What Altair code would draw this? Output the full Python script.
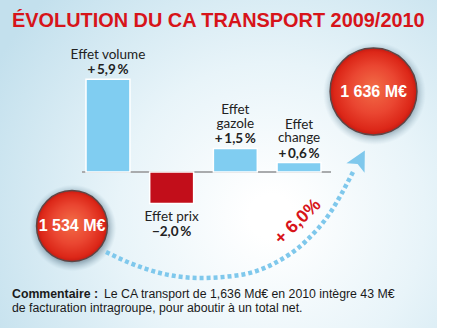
import altair as alt
import pandas as pd

# ---- data ----
categories = ["Effet volume", "Effet prix", "Effet gazole", "Effet change"]
values = [5.9, -2.0, 1.5, 0.6]
name_labels = ["Effet volume", "Effet prix", "Effet\ngazole", "Effet\nchange"]
value_labels = ["+\u20095,9\u2009%", "\u22122,0\u2009%", "+\u20091,5\u2009%", "+\u20090,6\u2009%"]
start_total = "1 534 M€"
end_total = "1 636 M€"
growth_label = "+ 6,0%"
title_text = "ÉVOLUTION DU CA TRANSPORT 2009/2010"
comment_bold = "Commentaire :"
comment_line1 = "Le CA transport de 1,636 Md€ en 2010 intègre 43 M€"
comment_line2 = "de facturation intragroupe, pour aboutir à un total net."
# arrow path (pixels)
arrow_x = [106, 130, 160, 200, 240, 275, 305, 330, 353]
arrow_y = [252, 263, 273, 278, 275, 263, 242, 213, 172]

df = pd.DataFrame({"cat": categories, "value": values,
                   "name": name_labels, "vlab": value_labels})
df["sign"] = ["pos" if v >= 0 else "neg" for v in values]
arrow_df = pd.DataFrame({"px": arrow_x, "py": arrow_y, "order": range(len(arrow_x))})

one = alt.Data(values=[{"a": 1}])

XS = alt.Scale(domain=categories, range=[86, 321], paddingInner=0.31, paddingOuter=0)
YS = alt.Scale(domain=[-4, 8], range=[234.8, 46.4], nice=False, zero=False)
X = alt.X("cat:N", scale=XS, axis=None, sort=categories)
XC = alt.X("cat:N", scale=XS, axis=None, sort=categories, bandPosition=0.5)
Y = alt.Y("value:Q", scale=YS, axis=None)

FONT_LAB = "Lato"
FONT_TXT = "Liberation Sans"

# background
bg = alt.Chart(one).mark_rect(
    color=alt.Gradient(gradient="radial", x1=0.62, y1=0.62, r1=0.05, x2=0.62, y2=0.62, r2=0.72,
                       stops=[alt.GradientStop(color="#ffffff", offset=0),
                              alt.GradientStop(color="#e8f4f9", offset=0.45),
                              alt.GradientStop(color="#c3e0ed", offset=1)])
).encode(x=alt.value(0), x2=alt.value(437), y=alt.value(0), y2=alt.value(328))

def circle_layers(label, cx, cy, r):
    d = alt.Data(values=[{"label": label}])
    shadow = alt.Chart(d).mark_point(
        filled=True, shape="circle", size=3.1416 * (r + 9) ** 2, opacity=1,
        fill=alt.Gradient(gradient="radial", x1=0.5, y1=0.5, r1=0.0, x2=0.5, y2=0.5, r2=0.5,
                          stops=[alt.GradientStop(color="rgba(60,90,110,0.45)", offset=0.8),
                                 alt.GradientStop(color="rgba(120,160,180,0.0)", offset=1)]),
        strokeWidth=0
    ).encode(x=alt.value(cx + 1), y=alt.value(cy + 2))
    body = alt.Chart(d).mark_point(
        filled=True, shape="circle", size=3.1416 * r ** 2, opacity=1,
        fill=alt.Gradient(gradient="radial", x1=0.5, y1=0.45, r1=0.0, x2=0.5, y2=0.5, r2=0.5,
                          stops=[alt.GradientStop(color="#f26d47", offset=0),
                                 alt.GradientStop(color="#ea4631", offset=0.55),
                                 alt.GradientStop(color="#dc2718", offset=0.9),
                                 alt.GradientStop(color="#c51b12", offset=1)]),
        stroke="#5e4646", strokeWidth=1.5
    ).encode(x=alt.value(cx), y=alt.value(cy))
    txt = alt.Chart(d).mark_text(
        font=FONT_TXT, fontWeight="bold", fontSize=16, color="white", align="center", baseline="middle"
    ).encode(x=alt.value(cx), y=alt.value(cy), text="label:N")
    return [shadow, body, txt]

left_c = circle_layers(start_total, 72, 226, 40)
right_c = circle_layers(end_total, 373.5, 91.5, 49)

# dotted arrow
arrow = alt.Chart(arrow_df).mark_line(
    color="#7fc8ec", strokeWidth=4.5, strokeDash=[4, 3], interpolate="monotone", strokeCap="butt"
).encode(
    x=alt.X("px:Q", scale=alt.Scale(domain=[0, 450], range=[0, 450]), axis=None),
    y=alt.Y("py:Q", scale=alt.Scale(domain=[0, 328], range=[0, 328]), axis=None),
    order="order:O"
)
arrow_head = alt.Chart(one).mark_point(
    shape="M0,-1L0.9,0.75L0,0.35L-0.9,0.75Z", filled=True, size=520, angle=28,
    color="#7fc8ec", opacity=1
).encode(x=alt.value(359.5), y=alt.value(160.5))

growth = alt.Chart(alt.Data(values=[{"t": growth_label}])).mark_text(
    font=FONT_TXT, fontWeight="bold", fontSize=18, color="#d7141a", angle=316,
    align="center", baseline="middle"
).encode(x=alt.value(298), y=alt.value(222), text="t:N")

# bars
base = alt.Chart(df)
bars = base.mark_bar(stroke="white", strokeWidth=1.5).encode(
    x=X, y=Y, y2=alt.datum(0),
    color=alt.Color("sign:N", scale=alt.Scale(domain=["pos", "neg"], range=["#80cdf1", "#c20e1a"]),
                    legend=None)
)
rule = alt.Chart(one).mark_rule(color="#a9abad", strokeWidth=2).encode(
    x=alt.value(82), x2=alt.value(331), y=alt.Y(datum=0, scale=YS, axis=None)
)
pos = base.transform_filter("datum.value >= 0")
neg = base.transform_filter("datum.value < 0")
pos1 = pos.transform_filter("indexof(datum.name, '\\n') < 0")
pos2 = pos.transform_filter("indexof(datum.name, '\\n') >= 0")
vlab_pos = pos.mark_text(font=FONT_LAB, fontWeight="bold", fontSize=13.5, color="#222222",
                         baseline="alphabetic", dy=-5).encode(x=XC, y=Y, text="vlab:N")
nlab_pos1 = pos1.mark_text(font=FONT_LAB, fontSize=13.5, color="#222222", baseline="alphabetic",
                           dy=-20).encode(x=XC, y=Y, text="name:N")
nlab_pos2 = pos2.mark_text(font=FONT_LAB, fontSize=13.5, color="#222222", baseline="alphabetic",
                           dy=-34, lineHeight=13.5, lineBreak="\n").encode(x=XC, y=Y, text="name:N")
nlab_neg = neg.mark_text(font=FONT_LAB, fontSize=13.5, color="#222222", baseline="alphabetic",
                         dy=18).encode(x=XC, y=Y, text="name:N")
vlab_neg = neg.mark_text(font=FONT_LAB, fontWeight="bold", fontSize=13.5, color="#222222",
                         baseline="alphabetic", dy=33).encode(x=XC, y=Y, text="vlab:N")

bar_layer = alt.layer(rule, bars, vlab_pos, nlab_pos1, nlab_pos2, nlab_neg, vlab_neg)

title = alt.Chart(alt.Data(values=[{"t": title_text}])).mark_text(
    font=FONT_TXT, fontWeight="bold", fontSize=19.9, color="#d7141a", align="left", baseline="alphabetic"
).encode(x=alt.value(12), y=alt.value(27), text="t:N")

c_bold = alt.Chart(alt.Data(values=[{"t": comment_bold}])).mark_text(
    font=FONT_TXT, fontWeight="bold", fontSize=12.3, color="#1a1a1a", align="left", baseline="alphabetic"
).encode(x=alt.value(12), y=alt.value(298), text="t:N")
c_l1 = alt.Chart(alt.Data(values=[{"t": comment_line1}])).mark_text(
    font=FONT_TXT, fontSize=12.3, color="#1a1a1a", align="left", baseline="alphabetic"
).encode(x=alt.value(104), y=alt.value(298), text="t:N")
c_l2 = alt.Chart(alt.Data(values=[{"t": comment_line2}])).mark_text(
    font=FONT_TXT, fontSize=12.3, color="#1a1a1a", align="left", baseline="alphabetic"
).encode(x=alt.value(12), y=alt.value(312), text="t:N")

chart = alt.layer(
    bg, *left_c, arrow, arrow_head, *right_c, growth, bar_layer, title, c_bold, c_l1, c_l2
).resolve_scale(x="independent", y="independent").properties(
    width=450, height=328, padding=0, autosize=alt.AutoSizeParams(type="none"), background="white"
).configure_view(stroke=None)

chart.save("out.html", embed_options={"renderer": "svg", "actions": False})
